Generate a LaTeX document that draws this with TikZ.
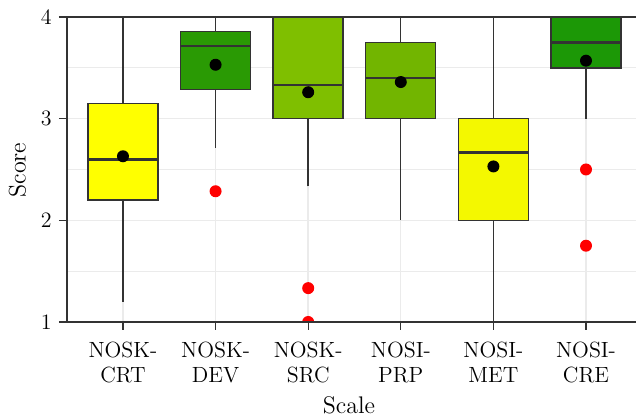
\documentclass[tikz,border=0pt]{standalone}
\usepackage{tikz}
\definecolor{crt}{HTML}{FFFF00}
\definecolor{dev}{HTML}{2A9A04}
\definecolor{src}{HTML}{7FBF00}
\definecolor{prp}{HTML}{72B500}
\definecolor{met}{HTML}{F4F800}
\definecolor{cre}{HTML}{1C9806}
\definecolor{gridgray}{HTML}{EBEBEB}
\definecolor{linegray}{HTML}{333333}
\begin{document}
\begin{tikzpicture}[x=46.3pt,y=50.83pt,
    majorgrid/.style={draw=gridgray,line width=0.7pt},
    minorgrid/.style={draw=gridgray,line width=0.45pt},
    axisline/.style={draw=linegray,line width=0.6pt},
    whisker/.style={draw=linegray,line width=0.7pt},
    boxline/.style={draw=linegray,line width=0.7pt},
    medline/.style={draw=linegray,line width=1.2pt},
    ticklab/.style={inner sep=0pt,font=\fontsize{11}{12.4}\selectfont},
    axtitle/.style={inner sep=0pt,font=\fontsize{12}{14}\selectfont}]
    \useasboundingbox (-0.328,0.0656) rectangle (6.54,4.167);
    % grid
    \foreach \y in {1.5,2.5,3.5} \draw[minorgrid] (0.395,\y)--(6.54,\y);
    \foreach \y in {1,...,4} \draw[majorgrid] (0.395,\y)--(6.54,\y);
    \foreach \x in {1,...,6} \draw[majorgrid] (\x,1)--(\x,4);
    % boxes
    \begin{scope}
      \clip (0.395,1) rectangle (6.54,4);
      \foreach \x/\lo/\qa/\md/\qb/\hi/\mn/\col in {1/1.2/2.2/2.6/3.15/4/2.63/crt,
          2/2.714/3.286/3.714/3.857/4/3.53/dev, 3/2.333/3/3.333/4/4/3.26/src,
          4/2/3/3.4/3.75/4/3.36/prp, 5/1/2/2.667/3/4/2.53/met,
          6/3/3.5/3.75/4/4/3.57/cre} {
        \draw[whisker] (\x,\lo)--(\x,\qa) (\x,\qb)--(\x,\hi);
        \filldraw[boxline,fill=\col] (\x-0.378,\qa) rectangle (\x+0.378,\qb);
        \draw[medline] (\x-0.378,\md)--(\x+0.378,\md);
        \fill (\x,\mn) circle (3pt);
      }
      \foreach \x/\y in {2/2.286,3/1.333,3/1,6/2.5,6/1.75} \fill[red] (\x,\y) circle (3pt);
    \end{scope}
    % axes
    \draw[axisline] (0.395,4)--(6.54,4);
    \draw[axisline] (0.395,4)--(0.395,1)--(6.54,1);
    \foreach \y in {1,...,4} {
      \draw[axisline] (0.309,\y)--(0.395,\y);
      \node[ticklab,anchor=east] (ylab\y) at (0.233,\y) {\y};
    }
    \foreach \x/\a/\b in {1/NOSK/CRT,2/NOSK/DEV,3/NOSK/SRC,4/NOSI/PRP,5/NOSI/MET,6/NOSI/CRE} {
      \draw[axisline] (\x,1)--(\x,0.921);
      \node[ticklab,anchor=north,align=center] (xlab\x) at (\x,0.806) {\a-\\\b};
    }
    \node[axtitle,rotate=90] (ytitle) at (-0.139,2.495) {Score};
    \node[axtitle] (xtitle) at (3.44,0.184) {Scale};
\end{tikzpicture}
\end{document}
